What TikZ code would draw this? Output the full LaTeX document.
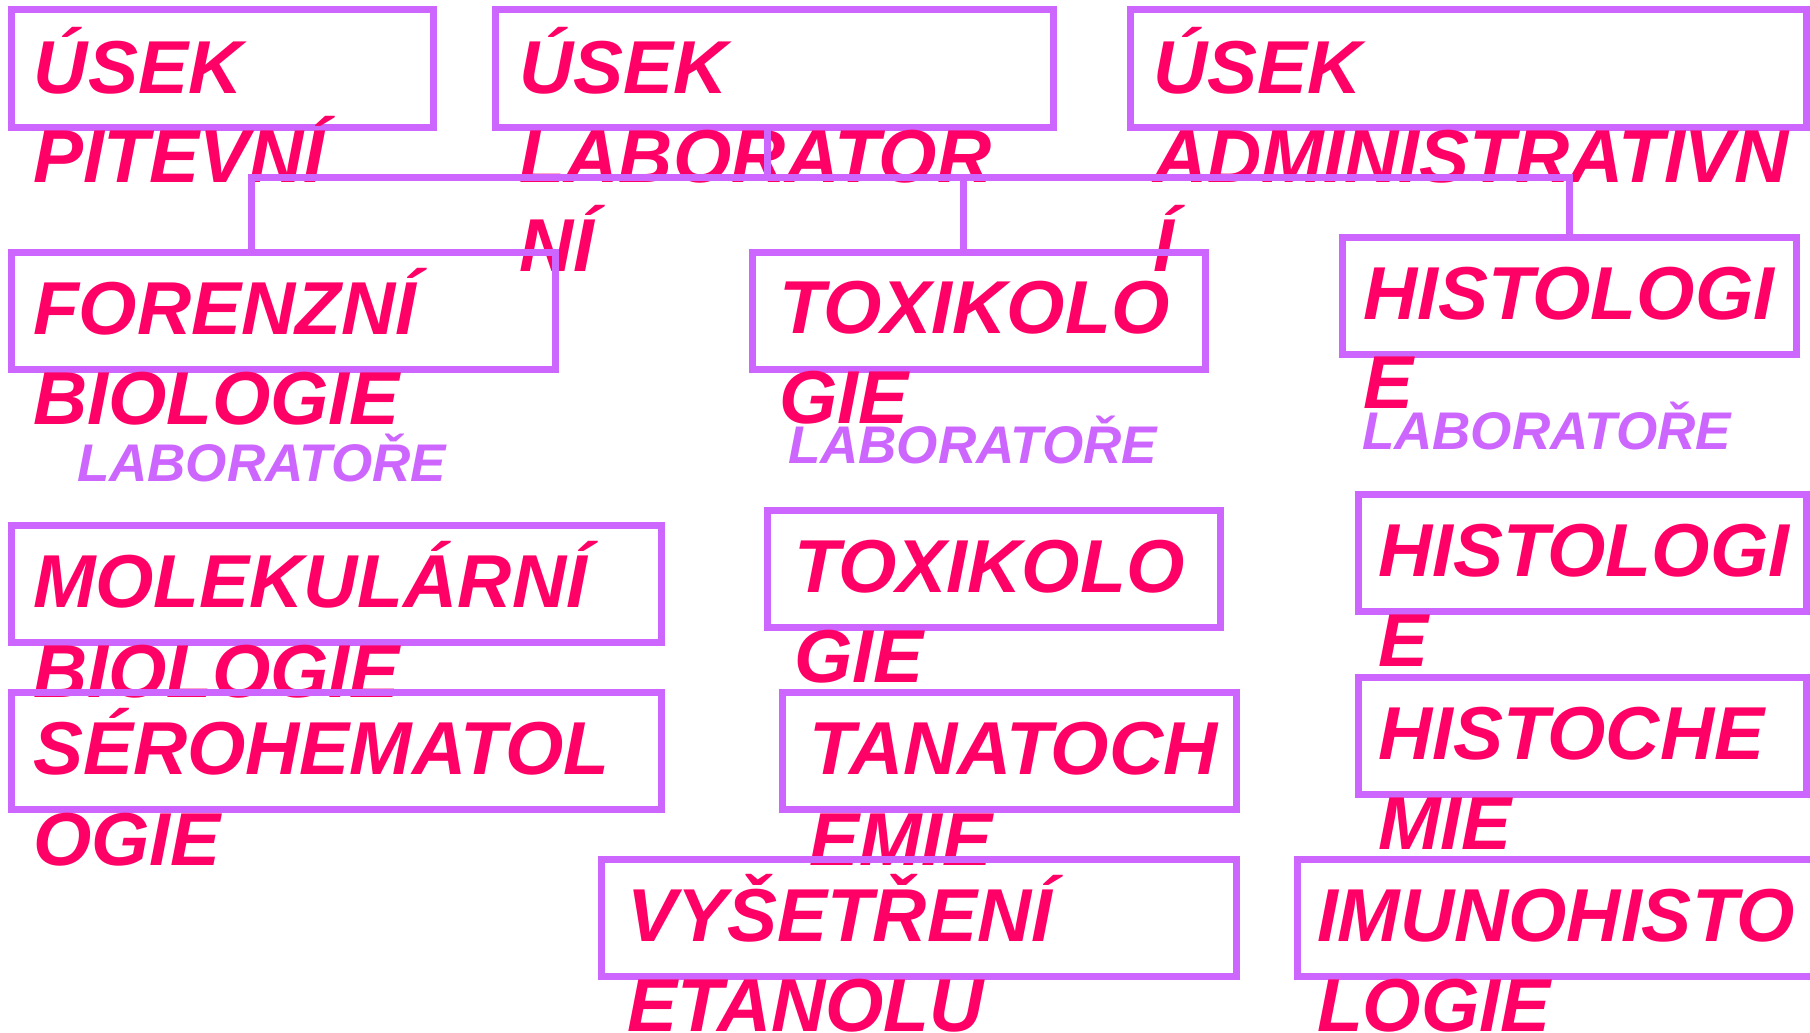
\documentclass[tikz,border=0pt]{standalone}
\usepackage{fontspec}
\setmainfont{Liberation Sans}
\definecolor{boxc}{HTML}{CC66FF}
\definecolor{txtc}{HTML}{FF0066}
\begin{document}
\begin{tikzpicture}[x=1pt,y=-1pt,
  box/.style={draw=boxc, line width=7pt, rectangle, inner sep=0pt, outer sep=0pt, anchor=north west, minimum height=117pt},
  big/.style={anchor=base west, inner sep=0pt, outer sep=0pt, text=txtc, font=\fontsize{75}{90}\selectfont\bfseries\itshape},
  sub/.style={anchor=base west, inner sep=0pt, outer sep=0pt, text=boxc, font=\fontsize{53}{64}\selectfont\bfseries\itshape},
  conn/.style={draw=boxc, line width=7pt}]
\useasboundingbox (0,0) rectangle (1810,1033);
\fill[white] (0,0) rectangle (1810,1033);
% row 1
\node[box, minimum width=422pt] (b1) at (11,10) {};
\node[big] (t1a) at (34,93) {ÚSEK};
\node[big] (t1b) at (33,182) {PITEVNÍ};
\node[box, minimum width=558pt] (b2) at (495,10) {};
\node[big] (t2a) at (519,93) {ÚSEK};
\node[big] (t2b) at (519,182) {LABORATOR};
\node[big] (t2c) at (519,271) {NÍ};
\node[box, minimum width=676pt] (b3) at (1130,10) {};
\node[big] (t3a) at (1153,93) {ÚSEK};
\node[big] (t3b) at (1153,182) {ADMINISTRATIVN};
\node[big] (t3c) at (1153,271) {Í};
% row 2
\node[box, minimum width=544pt] (b4) at (11,252) {};
\node[big] (t4a) at (33,334) {FORENZNÍ};
\node[big] (t4b) at (33,424) {BIOLOGIE};
\node[sub] (l4) at (77,481) {LABORATOŘE};
\node[box, minimum width=453pt] (b5) at (752,252) {};
\node[big] (t5a) at (779,333) {TOXIKOLO};
\node[big] (t5b) at (779,423) {GIE};
\node[sub] (l5) at (788,463) {LABORATOŘE};
\node[box, minimum width=454pt] (b6) at (1342,237) {};
\node[big] (t6a) at (1363,319) {HISTOLOGI};
\node[big] (t6b) at (1363,408) {E};
\node[sub] (l6) at (1362,449) {LABORATOŘE};
% left column
\node[box, minimum width=650pt] (b7) at (11,525) {};
\node[big] (t7a) at (33,607) {MOLEKULÁRNÍ};
\node[big] (t7b) at (33,697) {BIOLOGIE};
\node[box, minimum width=650pt] (b8) at (11,692) {};
\node[big] (t8a) at (33,774) {SÉROHEMATOL};
\node[big] (t8b) at (33,865) {OGIE};
% middle column
\node[box, minimum width=453pt] (b9) at (767,510) {};
\node[big] (t9a) at (794,592) {TOXIKOLO};
\node[big] (t9b) at (794,682) {GIE};
\node[box, minimum width=454pt] (b10) at (782,692) {};
\node[big] (t10a) at (809,774) {TANATOCH};
\node[big] (t10b) at (809,865) {EMIE};
\node[box, minimum width=635pt] (b11) at (601,859) {};
\node[big] (t11a) at (627,941) {VYŠETŘENÍ};
\node[big] (t11b) at (627,1031) {ETANOLU};
% right column
\node[box, minimum width=448pt] (b12) at (1358,494) {};
\node[big] (t12a) at (1378,576) {HISTOLOGI};
\node[big] (t12b) at (1378,666) {E};
\node[box, minimum width=448pt] (b13) at (1358,677) {};
\node[big] (t13a) at (1378,759) {HISTOCHE};
\node[big] (t13b) at (1378,849) {MIE};
\node[box, minimum width=540pt] (b14) at (1297,859) {};
\node[big] (t14a) at (1317,941) {IMUNOHISTO};
\node[big] (t14b) at (1317,1031) {LOGIE};
% connectors
\coordinate (bus) at (767,177);
\coordinate (busT) at (963,177);
\draw[conn] ([xshift=-7pt]b2.south) -- (bus);
\draw[conn] ([xshift=-32pt]b4.north) |- (bus) -| (b6.north);
\draw[conn] ([xshift=-15.5pt]b5.north) -- (busT);
\end{tikzpicture}
\end{document}
